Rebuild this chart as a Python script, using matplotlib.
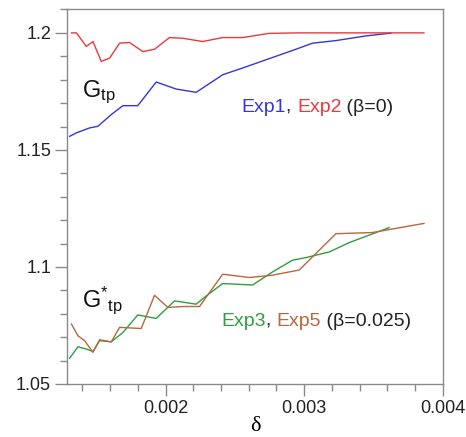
import matplotlib.pyplot as plt
from matplotlib.ticker import MultipleLocator

plt.rcParams["font.family"] = ["Liberation Sans", "DejaVu Sans"]

# Exp2 (beta=0)
exp2_x = [0.001322, 0.001358, 0.001429, 0.001477, 0.001537, 0.001597, 0.001669,
          0.001741, 0.001837, 0.001921, 0.002029, 0.002124, 0.002268, 0.002412,
          0.002556, 0.002748, 0.002964, 0.003863]
exp2_y = [1.2, 1.2, 1.1942, 1.1963, 1.1878, 1.1892, 1.1956,
          1.1959, 1.192, 1.193, 1.198, 1.1977, 1.1963, 1.198,
          1.198, 1.1998, 1.2, 1.2]

# Exp1 (beta=0)
exp1_x = [0.001309, 0.001358, 0.001453, 0.001513, 0.001609, 0.001693, 0.0018,
          0.001933, 0.002077, 0.002221, 0.002412, 0.002556, 0.002724, 0.002916,
          0.00306, 0.003228, 0.003444, 0.003624]
exp1_y = [1.1558, 1.1573, 1.1594, 1.1601, 1.1651, 1.1689, 1.1689,
          1.179, 1.176, 1.1746, 1.1821, 1.185, 1.1885, 1.1925,
          1.1956, 1.1967, 1.1987, 1.1999]

# Exp3 (beta=0.025)
exp3_x = [0.001309, 0.001369, 0.00143, 0.001477, 0.001525, 0.001609, 0.001693,
          0.0018, 0.001933, 0.002065, 0.002221, 0.002293, 0.002412, 0.002628,
          0.002772, 0.002916, 0.003012, 0.00318, 0.003324, 0.003612]
exp3_y = [1.061, 1.0659, 1.0649, 1.0639, 1.0685, 1.068, 1.072,
          1.0795, 1.078, 1.0855, 1.0841, 1.0876, 1.0929, 1.0923,
          1.0979, 1.1029, 1.104, 1.1064, 1.1104, 1.1168]

# Exp5 (beta=0.025)
exp5_x = [0.001322, 0.001369, 0.001417, 0.001477, 0.001525, 0.001609, 0.001669,
          0.001825, 0.001921, 0.002017, 0.002124, 0.002245, 0.002412, 0.002604,
          0.002676, 0.002772, 0.002964, 0.003228, 0.003491, 0.003863]
exp5_y = [1.0756, 1.0706, 1.0685, 1.0635, 1.0689, 1.068, 1.0742,
          1.0737, 1.0879, 1.0827, 1.0831, 1.0831, 1.0969, 1.0955,
          1.0959, 1.0965, 1.0987, 1.1142, 1.1147, 1.1186]

blue = "#3535dd"
red = "#e8393f"
green = "#2f9e3f"
brown = "#b8673e"
gray = "#8a8a8a"

fig = plt.figure(figsize=(4.66, 4.37), dpi=100)
ax = fig.add_axes([0.1438, 0.1213, 0.8068, 0.8581])

ax.plot(exp1_x, exp1_y, color=blue, lw=1.0)
ax.plot(exp2_x, exp2_y, color=red, lw=1.0)
ax.plot(exp3_x, exp3_y, color=green, lw=1.0)
ax.plot(exp5_x, exp5_y, color=brown, lw=1.0)

ax.set_xlim(0.00129, 0.004)
ax.set_ylim(1.05, 1.2102)
ax.xaxis.set_minor_locator(MultipleLocator(0.0002))
ax.yaxis.set_minor_locator(MultipleLocator(0.01))
ax.set_xticks([0.002, 0.003, 0.004])
ax.set_xticklabels(["0.002", "0.003", "0.004"])
ax.set_yticks([1.05, 1.1, 1.15, 1.2])
ax.set_yticklabels(["1.05", "1.1", "1.15", "1.2"])

for s in ax.spines.values():
    s.set_color(gray)
    s.set_linewidth(1.0)
ax.tick_params(which="both", direction="out", color=gray, width=1.0,
               labelsize=13, labelcolor="#222222")
ax.tick_params(which="major", length=8.5, pad=3)
ax.tick_params(which="minor", length=5)

ax.set_xlabel("δ", family="Liberation Serif", fontsize=16, va="top")
ax.xaxis.set_label_coords(0.5, -0.088)

ax.text(0.04, 0.765, r"$\mathregular{G_{tp}}$", transform=ax.transAxes,
        fontsize=17, color="#111111")
ax.text(0.04, 0.205, r"$\mathregular{G^{*}{}_{tp}}$", transform=ax.transAxes,
        fontsize=17, color="#111111")


def colored_text(x, y, parts):
    t = ax.text(x, y, parts[0][0], color=parts[0][1], fontsize=14,
                transform=ax.transAxes, va="bottom")
    for s, c in parts[1:]:
        t = ax.annotate(s, xy=(1, 0), xycoords=t, color=c, fontsize=14,
                        va="bottom")


colored_text(0.465, 0.715, [("Exp1", blue), (", ", "#222222"), ("Exp2", red),
                            (" (β=0)", "#222222")])
colored_text(0.41, 0.145, [("Exp3", green), (", ", "#222222"), ("Exp5", brown),
                           (" (β=0.025)", "#222222")])

fig.savefig("out.png", dpi=100)
